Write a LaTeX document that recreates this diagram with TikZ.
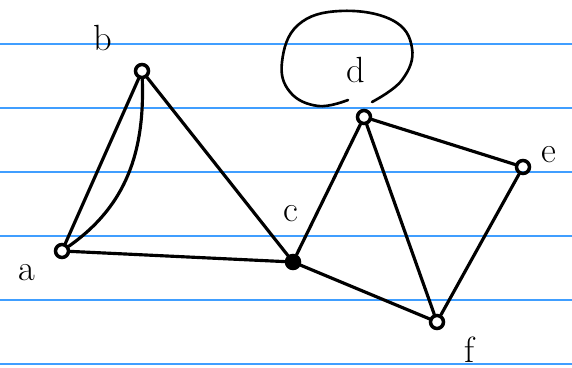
\documentclass[tikz,border=0pt]{standalone}
\usepackage{xcolor}
\usepackage{tikz}
\usetikzlibrary{arrows,shapes,positioning,calc}

\definecolor{ruleblue}{RGB}{64,158,255}

\begin{document}
\begin{tikzpicture}[
    x=0.02cm, y=-0.02cm,
    vertex/.style={circle, draw, line width=2pt, minimum size=0.26cm, inner sep=0pt},
    solidvertex/.style={vertex, fill=black},
    edge/.style={line width=1.8pt, line cap=round},
    lbl/.style={font=\huge, inner sep=0pt},
    ruling/.style={ruleblue, line width=0.9pt}
  ]

    % paper with ruled lines
    \fill[white] (0,0) rectangle (572,368);
    \useasboundingbox (0,0) rectangle (572,368);
    \foreach \y in {44,108,172,236,300,364}
      \draw[ruling] (0,\y) -- (572,\y);

    % vertices
    \node[vertex] (a) at (62,251) {};
    \node[vertex] (b) at (142,71) {};
    \node[solidvertex] (c) at (293,262) {};
    \node[vertex] (d) at (364,117) {};
    \node[vertex] (e) at (523,167) {};
    \node[vertex] (f) at (437,322) {};

    % labels
    \node[lbl] (la) at (27,273) {a};
    \node[lbl] (lb) at (103,38) {b};
    \node[lbl] (lc) at (291,214) {c};
    \node[lbl] (ld) at (356,70) {d};
    \node[lbl] (le) at (549,155) {e};
    \node[lbl] (lf) at (470,350) {f};

    % edges
    \draw[edge] (a) -- (b);
    \draw[edge] (a) to[out=35, in=-88] (b);
    \draw[edge] (b) -- (c);
    \draw[edge] (a) -- (c);
    \draw[edge] (c) -- (d);
    \draw[edge] (c) -- (f);
    \draw[edge] (d) -- (e);
    \draw[edge] (d) -- (f);
    \draw[edge] (e) -- (f);

    % loop around d
    \coordinate (loopL) at (348,100);
    \coordinate (loopR) at (372,102);
    \draw[edge, line width=1.5pt] plot[smooth, tension=0.7] coordinates
      {(loopL) (318,106) (290,92) (282,62) (298,25) (340,11) (392,20) (412,48) (402,80) (loopR)};

\end{tikzpicture}
\end{document}
